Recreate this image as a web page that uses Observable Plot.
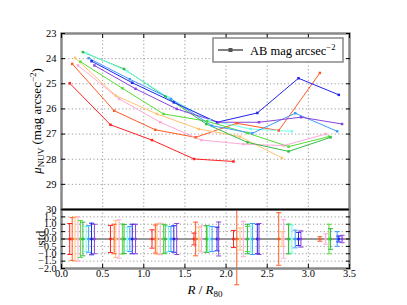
<!DOCTYPE html>
<html><head><meta charset="utf-8">
<script src="https://cdn.jsdelivr.net/npm/d3@7"></script>
<script src="https://cdn.jsdelivr.net/npm/@observablehq/plot@0.6"></script>
<style>
body{margin:0;background:#fff;}
#chart{position:relative;width:407px;height:305px;}
#chart svg{display:block;overflow:visible;}
</style></head><body><div id="chart"></div>
<script>
// ---- data ----
const seriesNames = ["red","orangered","peach","pink","lime","green","cyan","lightblue","blue","purple"];
const seriesColors = ["#ff2020","#ff5a22","#ffc36e","#ffa8d8","#55dd33","#33bb44","#77ffee","#3d9cff","#2222ee","#8844dd"];

const rRed = [0.10,0.595,1.10,1.61,2.09];
const muRed = [24.98,26.63,27.24,27.99,28.09];
const sdRed = [1.05,0.92,0.62,0.40,0.58];

const rOrangered = [0.13,0.64,1.14,1.63,2.13,2.64,3.14];
const muOrangered = [24.21,26.07,26.83,27.13,26.57,26.86,24.57];
const sdOrangered = [1.45,1.00,0.95,1.14,3.10,1.78,0.15];

const rPeach = [0.165,0.66,1.16,1.67,2.17,2.68];
const muPeach = [23.97,25.47,26.20,26.80,27.10,27.95];
const sdPeach = [1.50,1.25,1.05,0.80,0.75,0.50];

const rPink = [0.20,0.70,1.20,1.70,2.21,2.70,3.21];
const muPink = [24.27,25.60,26.53,27.24,27.40,27.46,27.00];
const sdPink = [1.50,1.30,1.07,0.88,1.20,1.30,0.35];

const rLime = [0.23,0.74,1.24,1.77,2.26,2.76,3.25];
const muLime = [24.12,25.18,26.20,26.49,26.96,27.50,27.10];
const sdLime = [1.25,1.02,1.00,0.90,0.85,1.00,1.00];

const rGreen = [0.26,0.76,1.26,1.76,2.26,2.76,3.27];
const muGreen = [23.74,24.41,25.50,26.60,27.33,27.69,27.13];
const sdGreen = [1.14,0.98,0.95,0.90,1.00,1.00,0.70];

const rCyan = [0.30,0.80,1.30,1.80,2.30,2.80];
const muCyan = [23.77,24.50,25.55,26.45,26.80,26.89];
const sdCyan = [0.85,0.80,0.85,0.85,0.90,0.95];

const rLightblue = [0.33,0.83,1.33,1.83,2.32,2.84,3.35];
const muLightblue = [23.98,24.82,25.60,26.67,26.97,26.17,26.89];
const sdLightblue = [0.90,0.85,0.85,0.85,1.05,0.60,0.50];

const rBlue = [0.365,0.86,1.365,1.89,2.38,2.88,3.37];
const muBlue = [24.10,24.96,25.74,26.53,26.16,24.78,25.44];
const sdBlue = [1.07,1.00,0.90,0.80,1.00,0.45,0.20];

const rPurple = [0.40,0.90,1.40,1.91,2.40,2.91,3.41];
const muPurple = [24.27,25.20,26.00,26.53,26.53,26.33,26.60];
const sdPurple = [1.00,1.00,1.05,1.15,1.05,0.55,0.25];

const xTicks = [0,0.5,1.0,1.5,2.0,2.5,3.0,3.5];
const muTicks = [23,24,25,26,27,28,29,30];
const stdTicks = [-2.0,-1.5,-1.0,-0.5,0.0,0.5,1.0,1.5];
const legendLabel = "AB mag arcsec";

// ---- build tables ----
const raw = [
  [rRed,muRed,sdRed],[rOrangered,muOrangered,sdOrangered],[rPeach,muPeach,sdPeach],
  [rPink,muPink,sdPink],[rLime,muLime,sdLime],[rGreen,muGreen,sdGreen],
  [rCyan,muCyan,sdCyan],[rLightblue,muLightblue,sdLightblue],[rBlue,muBlue,sdBlue],
  [rPurple,muPurple,sdPurple]
];
const profile = [];
raw.forEach(([rs,mus,sds],i)=>rs.forEach((r,j)=>profile.push({series:seriesNames[i],r,mu:mus[j],sd:sds[j]})));

const FONT = "'Liberation Serif','DejaVu Serif',serif";
const W = 407, ML = 61, MR = 58;
const colorOpt = {domain: seriesNames, range: seriesColors};
const grid = {stroke:"#9a9a9a", strokeOpacity:1, strokeDasharray:"1.2,2.4", strokeWidth:1};
const capSymbol = {draw(ctx){ ctx.moveTo(-2.5,0); ctx.lineTo(2.5,0); }};

const topPlot = Plot.plot({
  width: W, height: 209, marginLeft: ML, marginRight: MR, marginTop: 33, marginBottom: 0,
  style: {fontFamily: FONT, fontSize: "10.5px", background: "transparent", color: "#000", overflow: "visible"},
  x: {domain: [0, 3.5], label: null},
  y: {domain: [23, 30], reverse: true, label: null},
  color: colorOpt,
  marks: [
    Plot.gridX(xTicks.filter(t=>t>0&&t<3.5), grid),
    Plot.gridY(muTicks.filter(t=>t>23&&t<30), grid),
    Plot.line(profile, {x:"r", y:"mu", z:"series", stroke:"series", strokeWidth:1}),
    Plot.dot(profile, {x:"r", y:"mu", fill:"series", symbol:"square", r:1.4}),
    Plot.frame({stroke:"#888", strokeWidth:2.5}),
    Plot.axisY(muTicks, {anchor:"left", tickSize:0, tickPadding:5, label:null, tickFormat:d=>String(d), fontSize:10.5}),
    Plot.axisY(muTicks, {anchor:"left", tickSize:4, dx:4, label:null, tickFormat:()=>""}),
    Plot.axisY(muTicks, {anchor:"right", tickSize:4, dx:-4, label:null, tickFormat:()=>""}),
    Plot.axisX(xTicks, {anchor:"top", tickSize:4, dy:4, label:null, tickFormat:()=>""})
  ]
});

const botPlot = Plot.plot({
  width: W, height: 96, marginLeft: ML, marginRight: MR, marginTop: 0, marginBottom: 37,
  style: {fontFamily: FONT, fontSize: "10.5px", background: "transparent", color: "#000", overflow: "visible"},
  x: {domain: [0, 3.5], label: null},
  y: {domain: [-2, 2], label: null},
  color: colorOpt,
  marks: [
    Plot.gridX(xTicks.filter(t=>t>0&&t<3.5), grid),
    Plot.gridY(stdTicks.filter(t=>t!==0&&t>-2), grid),
    Plot.ruleY([0], {stroke:"#999", strokeWidth:2}),
    Plot.ruleX(profile, {x:"r", y1:d=>-d.sd, y2:d=>Math.min(d.sd,2), stroke:"series", strokeWidth:1}),
    Plot.dot(profile.filter(d=>d.sd<=2), {x:"r", y:"sd", stroke:"series", symbol:capSymbol, r:2, strokeWidth:1}),
    Plot.dot(profile, {x:"r", y:d=>-d.sd, stroke:"series", symbol:capSymbol, r:2, strokeWidth:1}),
    Plot.dot(profile, {x:"r", y:()=>0, fill:"series", symbol:"square", r:1.4}),
    Plot.frame({stroke:"#888", strokeWidth:2.5}),
    Plot.ruleY([2], {stroke:"#000", strokeWidth:1.5}),
    Plot.axisY(stdTicks, {anchor:"left", tickSize:0, tickPadding:5, label:null, tickFormat:d3.format(".1f"), fontSize:10}),
    Plot.axisY(stdTicks, {anchor:"left", tickSize:4, dx:4, label:null, tickFormat:()=>""}),
    Plot.axisY(stdTicks, {anchor:"right", tickSize:4, dx:-4, label:null, tickFormat:()=>""}),
    Plot.axisX(xTicks, {anchor:"bottom", tickSize:0, tickPadding:1, label:null, tickFormat:d3.format(".1f"), fontSize:10.5}),
    Plot.axisX(xTicks, {anchor:"bottom", tickSize:4, dy:-4, label:null, tickFormat:()=>""})
  ]
});

const chart = document.getElementById("chart");
chart.appendChild(topPlot);
chart.appendChild(botPlot);

// ---- labels & legend ----
const ts = d3.select(topPlot);
const ylab = ts.append("text")
  .attr("transform","translate(41,121) rotate(-90)")
  .attr("text-anchor","middle").attr("font-family",FONT).attr("font-size",13).attr("fill","#000");
ylab.append("tspan").attr("font-style","italic").text("μ");
ylab.append("tspan").attr("font-size",9).attr("dy",3).text("NUV");
ylab.append("tspan").attr("dy",-3).text(" (mag arcsec");
ylab.append("tspan").attr("font-size",9).attr("dy",-5).text("−2");
ylab.append("tspan").attr("dy",5).text(")");

const lg = ts.append("g");
lg.append("rect").attr("x",213).attr("y",38).attr("width",130).attr("height",24)
  .attr("fill","#fff").attr("stroke","#888").attr("stroke-width",1.5);
lg.append("line").attr("x1",218).attr("x2",243).attr("y1",50).attr("y2",50)
  .attr("stroke","#555").attr("stroke-width",1.5);
lg.append("rect").attr("x",228.5).attr("y",48).attr("width",4).attr("height",4).attr("fill","#555");
const lt = lg.append("text").attr("x",250).attr("y",54.5).attr("text-anchor","start")
  .attr("font-family",FONT).attr("font-size",12.5).attr("fill","#000");
lt.append("tspan").text(legendLabel);
lt.append("tspan").attr("font-size",8.5).attr("dy",-5).text("−2");

const bs = d3.select(botPlot);
bs.append("text").attr("transform","translate(45,29) rotate(-90)")
  .attr("text-anchor","middle").attr("font-family",FONT).attr("font-size",13).attr("fill","#000").text("std");
const xl = bs.append("text").attr("x",205).attr("y",85).attr("text-anchor","middle")
  .attr("font-family",FONT).attr("font-size",13).attr("fill","#000");
xl.append("tspan").attr("font-style","italic").text("R");
xl.append("tspan").text(" / ");
xl.append("tspan").attr("font-style","italic").text("R");
xl.append("tspan").attr("font-size",9).attr("dy",3).text("80");
</script></body></html>
